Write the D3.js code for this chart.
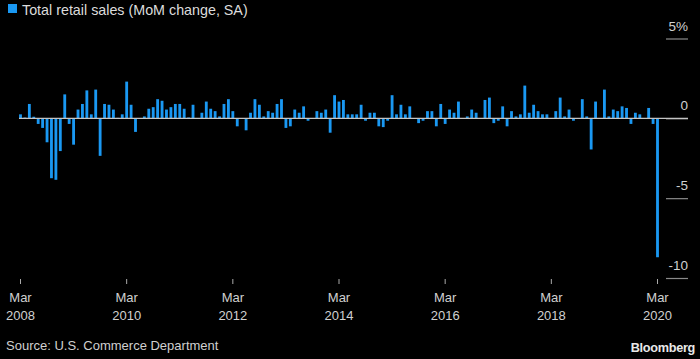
<!DOCTYPE html>
<html>
<head>
<meta charset="utf-8">
<script src="https://cdn.jsdelivr.net/npm/d3@7"></script>
<style>
  html, body { margin: 0; padding: 0; background: #000; }
  svg { display: block; }
  text { font-family: "Liberation Sans", Arial, sans-serif; }
</style>
</head>
<body>
<svg id="chart" width="700" height="359"></svg>
<script>
// ---- Data ----
const title = "Total retail sales (MoM change, SA)";
const source = "Source: U.S. Commerce Department";
const startMonth = "2008-03";   // first bar
const endMonth = "2020-03";     // last bar
// Monthly % change, Mar 2008 .. Mar 2020
const values = [
  0.25, 0.05, 0.9, 0.1, -0.35, -0.6, -1.5, -3.75, -3.85, -2.05, 1.5, -0.35,
  -1.65, 0.55, 0.9, 1.75, 0.25, 1.8, -2.35, 0.9, 0.85, 0.55, 0.03, 0.25,
  2.3, 0.85, -0.85, 0.02, 0.12, 0.6, 0.7, 1.2, 1.1, 0.55, 0.7, 0.9,
  0.9, 0.6, 0.05, 0.85, 0.02, 0.35, 1.05, 0.6, 0.45, 0.12, 0.9, 1.2,
  0.45, -0.5, -0.03, -0.75, 0.35, 1.2, 0.85, 0.12, 0.45, 0.35, 0.9, 1.2,
  -0.6, -0.5, 0.55, 0.35, 0.75, -0.15, 0.02, 0.45, 0.35, 0.55, -0.9, 1.45,
  1.05, 1.15, 0.25, 0.25, 0.25, 0.85, -0.15, 0.35, 0.35, -0.5, -0.55, -0.15,
  1.45, 0.25, 0.85, 0.25, 0.75, 0.02, -0.3, -0.15, 0.45, 0.45, -0.5, 0.9,
  -0.35, 0.55, 0.35, 1.05, 0.02, 0.12, 0.55, 0.35, 0.02, 1.15, 1.3, -0.3,
  -0.15, 0.75, -0.5, 0.45, 0.12, 0.25, 2.05, 0.35, 0.85, 0.45, 0.25, 0.25,
  0.02, 0.45, 1.3, 0.12, 0.55, -0.15, 0.02, 1.2, 0.12, -1.95, 1.05, 0.02,
  1.8, 0.12, 0.55, 0.45, 0.75, 0.65, -0.35, 0.35, 0.25, 0.02, 0.65, -0.35,
  -8.7
];
const yTicks = [5, 0, -5, -10];
const yTickLabels = ["5%", "0", "-5", "-10"];
const xTickMonths = ["2008-03", "2010-03", "2012-03", "2014-03", "2016-03", "2018-03", "2020-03"];

// ---- Build ----
const parse = d3.timeParse("%Y-%m");
const fmtKey = d3.timeFormat("%Y-%m");
const months = d3.timeMonth.range(parse(startMonth), d3.timeMonth.offset(parse(endMonth), 1)).map(fmtKey);
const data = months.map((m, i) => ({ m, v: values[i] }));

const svg = d3.select("#chart");
svg.append("rect").attr("width", 700).attr("height", 359).attr("fill", "#000");

const n = months.length;
const c0 = 20.5, c1 = 657.5;
const step = (c1 - c0) / (n - 1);
const x = d3.scaleBand().domain(months)
  .range([c0 - step / 2, c1 + step / 2])
  .paddingInner(0.36).paddingOuter(0.18);

const y = d3.scaleLinear().domain([-10, 5]).range([278, 38.5]);

const barColor = "#1a98f2";

// Title with legend square
svg.append("rect").attr("x", 8).attr("y", 4).attr("width", 9).attr("height", 9).attr("fill", barColor);
svg.append("text").attr("x", 22).attr("y", 15).attr("fill", "#dcdcdc")
  .attr("font-size", 14.3).text(title);

// Y axis (short gridlines on right)
const yAxis = d3.axisRight(y).tickValues(yTicks).tickSize(22)
  .tickFormat((d, i) => yTickLabels[i]);
const gy = svg.append("g").attr("transform", "translate(666,0)").call(yAxis);
gy.select(".domain").remove();
gy.selectAll(".tick line").attr("stroke", "#8a8a8a").attr("stroke-width", 1.2);
gy.selectAll(".tick text").attr("x", 22).attr("dy", -8.5).attr("text-anchor", "end")
  .attr("fill", "#d0d0d0").attr("font-size", 13.5).attr("font-family", "Liberation Sans, Arial, sans-serif");

// Bars
svg.append("g").selectAll("rect").data(data).join("rect")
  .attr("x", d => x(d.m))
  .attr("width", x.bandwidth())
  .attr("y", d => y(Math.max(0, d.v)))
  .attr("height", d => Math.max(0.6, Math.abs(y(d.v) - y(0))))
  .attr("fill", barColor);

// Zero line
svg.append("line").attr("x1", 19).attr("x2", 688).attr("y1", y(0)).attr("y2", y(0))
  .attr("stroke", "#c4c4c4").attr("stroke-width", 1.3);

// X axis
const xAxis = d3.axisBottom(x).tickValues(xTickMonths).tickSize(5).tickSizeOuter(0).tickFormat("");
const gx = svg.append("g").attr("transform", "translate(0,279)").call(xAxis);
gx.select(".domain").remove();
gx.selectAll(".tick line").attr("stroke", "#aaa");
const tfm = d3.timeFormat("%b"), tfy = d3.timeFormat("%Y");
gx.selectAll(".tick").each(function (d) {
  const t = d3.select(this).append("text").attr("text-anchor", "middle")
    .attr("fill", "#d0d0d0").attr("font-size", 13)
    .attr("font-family", "Liberation Sans, Arial, sans-serif");
  t.append("tspan").attr("x", 0).attr("y", 23).text(tfm(parse(d)));
  t.append("tspan").attr("x", 0).attr("y", 41).text(tfy(parse(d)));
});

// Footer
svg.append("text").attr("x", 6).attr("y", 350).attr("fill", "#d0d0d0")
  .attr("font-size", 13).text(source);
svg.append("text").attr("x", 695).attr("y", 352).attr("text-anchor", "end")
  .attr("fill", "#e8e8e8").attr("font-size", 12.7).attr("font-weight", "bold")
  .attr("letter-spacing", -0.3).text("Bloomberg");
</script>
</body>
</html>
